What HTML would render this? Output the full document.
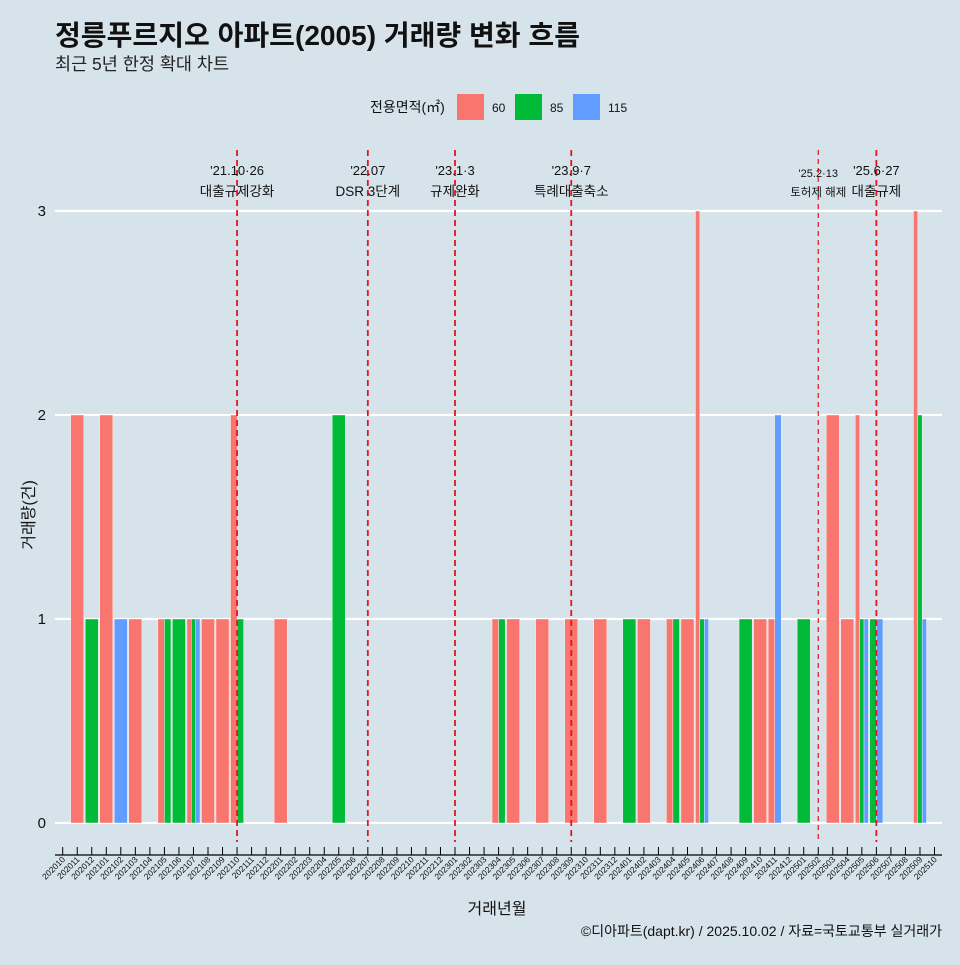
<!DOCTYPE html>
<html><head><meta charset="utf-8"><style>
body{margin:0;background:#d6e3ea;}
text{font-family:"Liberation Sans","Noto Sans CJK KR",sans-serif;}
</style></head><body>
<svg id="chart" width="960" height="960" xmlns="http://www.w3.org/2000/svg">
<rect width="960" height="960" fill="#d6e3ea"/>
<text x="55" y="45" font-size="28" font-weight="bold" fill="#111" textLength="525" lengthAdjust="spacingAndGlyphs">정릉푸르지오 아파트(2005) 거래량 변화 흐름</text>
<text x="55" y="70" font-size="17.5" fill="#222">최근 5년 한정 확대 차트</text>
<g>
<text x="370" y="112" font-size="14" fill="#111">전용면적(㎡)</text>
<rect x="457" y="94" width="27" height="26" fill="#f8766d"/>
<text x="492" y="112" font-size="12" fill="#111">60</text>
<rect x="515" y="94" width="27" height="26" fill="#00ba38"/>
<text x="550" y="112" font-size="12" fill="#111">85</text>
<rect x="573" y="94" width="27" height="26" fill="#619cff"/>
<text x="608" y="112" font-size="12" fill="#111">115</text>
</g>
<g id="grid"></g><g id="bars"></g><g id="events"></g><g id="xaxis"></g>
<text transform="translate(34,515) rotate(-90)" text-anchor="middle" font-size="16" fill="#111">거래량(건)</text>
<text x="497" y="914" text-anchor="middle" font-size="16" fill="#111">거래년월</text>
<text x="942" y="936" text-anchor="end" font-size="14" fill="#111">©디아파트(dapt.kr) / 2025.10.02 / 자료=국토교통부 실거래가</text>
</svg>
<script>
const months = [];
for (let y = 2020, m = 10; !(y === 2025 && m === 11); m++) { if (m > 12) { m = 1; y++; } if (y === 2025 && m === 11) break; months.push(String(y) + String(m).padStart(2, '0')); }
const s60 = {1:2,3:2,5:1,7:1,9:1,10:1,11:1,12:2,15:1,30:1,31:1,33:1,35:1,37:1,40:1,42:1,43:1,44:3,48:1,49:1,53:2,54:1,55:2,59:3};
const s85 = {2:1,7:1,8:1,9:1,12:1,19:2,30:1,39:1,42:1,44:1,47:1,51:1,55:1,56:1,59:2};
const s115 = {4:1,9:1,44:1,49:2,55:1,56:1,59:1};
const yTicks = [0, 1, 2, 3];
const events = [
 {m:'202110', l1:"'21.10·26", l2:'대출규제강화', thin:false},
 {m:'202207', l1:"'22.07", l2:'DSR 3단계', thin:false},
 {m:'202301', l1:"'23.1·3", l2:'규제완화', thin:false},
 {m:'202309', l1:"'23.9·7", l2:'특례대출축소', thin:false},
 {m:'202502', l1:"'25.2·13", l2:'토허제 해제', thin:true},
 {m:'202506', l1:"'25.6·27", l2:'대출규제', thin:false}
];
const NS = 'http://www.w3.org/2000/svg';
const X0 = 62.7, STEP = 14.53, Y0 = 823, YU = 204;
const x = i => X0 + i * STEP;
const y = v => Y0 - v * YU;
function mk(tag, attrs, parent) { const e = document.createElementNS(NS, tag); for (const k in attrs) e.setAttribute(k, attrs[k]); parent.appendChild(e); return e; }
const grid = document.getElementById('grid');
yTicks.forEach(t => {
  const ln = mk('line', {x1:55, x2:942, y1:y(t), y2:y(t), stroke:'#fff', 'stroke-width':2.2}, grid);
  
  
  const tx = mk('text', {x:46, y:y(t)+5, 'text-anchor':'end', 'font-size':15, fill:'#111'}, grid);
  
  
  tx.textContent = t;
});
const bars = document.getElementById('bars');
const series = [['60', s60, '#f8766d'], ['85', s85, '#00ba38'], ['115', s115, '#619cff']];
months.forEach((mo, i) => {
  const present = series.filter(s => s[1][i]);
  if (!present.length) return;
  const gw = STEP * 0.9, w = gw / present.length;
  present.forEach((s, j) => {
    const v = s[1][i];
    const r = mk('rect', {x:x(i) - gw/2 + j*w, y:y(v), width:w, height:y(0)-y(v), fill:s[2], stroke:'#fff', 'stroke-width':0.4}, bars);
    
    
  });
});
const xa = document.getElementById('xaxis');
const axl = mk('line', {x1:55, x2:942, y1:855, y2:855, stroke:'#000', 'stroke-width':1.2}, xa);


months.forEach((mo, i) => {
  mk('line', {x1:x(i), x2:x(i), y1:847, y2:855, stroke:'#000', 'stroke-width':1}, xa);
  const t = mk('text', {transform:`translate(${x(i)+3},860) rotate(-45)`, 'text-anchor':'end', 'font-size':8.5, fill:'#111'}, xa);
  
  
  t.textContent = mo;
});
const ev = document.getElementById('events');
events.forEach(e => {
  const i = months.indexOf(e.m), px = x(i);
  const ln = mk('line', {x1:px, x2:px, y1:150, y2:842, stroke:'#e8141c', 'stroke-width':e.thin?1.2:1.8, 'stroke-dasharray':e.thin?'5,4':'6,4'}, ev);
  
  
  const fs = e.thin ? 11 : 13;
  const t1 = mk('text', {x:px, y:e.thin?177:175, 'text-anchor':'middle', 'font-size':fs, fill:'#111'}, ev);
  
  
  t1.textContent = e.l1;
  const t2 = mk('text', {x:px, y:196, 'text-anchor':'middle', 'font-size':fs+0.5, fill:'#111'}, ev);
  
  
  t2.textContent = e.l2;
});
</script>
</body></html>
